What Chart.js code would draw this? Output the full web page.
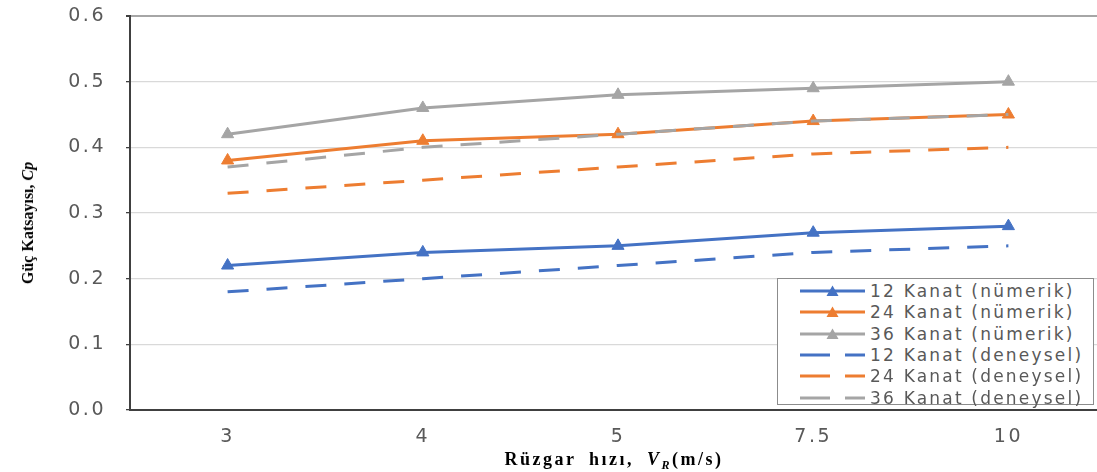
<!DOCTYPE html>
<html>
<head>
<meta charset="utf-8">
<script src="https://cdn.jsdelivr.net/npm/chart.js@4.4.0/dist/chart.umd.min.js"></script>
<style>
html, body { margin: 0; padding: 0; background: #fff; overflow: hidden; width: 1097px; height: 472px; }
#cpChart { position: absolute; left: 0; top: 0; }
#yTitle { position: absolute; left: 28px; top: 223px; transform: translate(-50%, -50%) rotate(-90deg); font: bold 16px "Liberation Serif"; white-space: nowrap; color: #000; }
#xTitle { position: absolute; left: 614px; top: 461px; transform: translate(-50%, -50%); font: bold 18px "Liberation Serif"; letter-spacing: 2.5px; word-spacing: 6px; white-space: nowrap; color: #000; }
#legend { position: absolute; left: 777px; top: 278px; width: 315px; height: 125px; border: 1.5px solid #8c8c8c; background: #fff; }
.row { position: absolute; left: 0; height: 21px; display: flex; align-items: center; }
.row svg { margin-left: 22px; }
.row span { margin-left: 5px; font: 17px "DejaVu Sans"; letter-spacing: 2.2px; color: #595959; white-space: nowrap; }
</style>
</head>
<body>
<canvas id="cpChart" width="1114" height="472"></canvas>
<div id="yTitle">Güç Katsayısı, <i>Cp</i></div>
<div id="xTitle">Rüzgar hızı, <i>V<sub style="font-size:12px">R</sub></i>(m/s)</div>
<div id="legend"></div>
<script>
// Wind speed categories
const windSpeeds = ["3", "4", "5", "7.5", "10"];

// Numerical results
const blade12Num = [0.22, 0.24, 0.25, 0.27, 0.28];
const blade24Num = [0.38, 0.41, 0.42, 0.44, 0.45];
const blade36Num = [0.42, 0.46, 0.48, 0.49, 0.50];

// Experimental results
const blade12Exp = [0.18, 0.20, 0.22, 0.24, 0.25];
const blade24Exp = [0.33, 0.35, 0.37, 0.39, 0.40];
const blade36Exp = [0.37, 0.40, 0.42, 0.44, 0.45];

const yTicks = [0, 0.1, 0.2, 0.3, 0.4, 0.5, 0.6];

const blue = "#4472C4";
const orange = "#ED7D31";
const gray = "#A5A5A5";

function numSeries(label, data, color, order) {
    return {
        label: label,
        data: data,
        borderColor: color,
        backgroundColor: color,
        borderWidth: 3,
        pointStyle: "triangle",
        pointRadius: 7,
        pointBorderWidth: 1,
        order: order,
        dashed: false,
    };
}

function expSeries(label, data, color, order) {
    return {
        label: label,
        data: data,
        borderColor: color,
        backgroundColor: color,
        borderWidth: 3,
        borderDash: [21, 18],
        pointRadius: 0,
        order: order,
        dashed: true,
    };
}

const datasets = [
    numSeries("12 Kanat (nümerik)", blade12Num, blue, 6),
    numSeries("24 Kanat (nümerik)", blade24Num, orange, 5),
    numSeries("36 Kanat (nümerik)", blade36Num, gray, 4),
    expSeries("12 Kanat (deneysel)", blade12Exp, blue, 3),
    expSeries("24 Kanat (deneysel)", blade24Exp, orange, 2),
    expSeries("36 Kanat (deneysel)", blade36Exp, gray, 1),
];

const spacingPlugin = {
    id: "spacing",
    beforeDraw(chart) {
        chart.ctx.letterSpacing = "2.5px";
    },
};

const cpChart = new Chart(document.getElementById("cpChart"), {
    type: "line",
    data: { labels: windSpeeds, datasets: datasets },
    options: {
        responsive: false,
        animation: false,
        devicePixelRatio: 1,
        layout: { padding: { top: 16, left: 0, right: 0, bottom: 0 } },
        elements: { line: { tension: 0 } },
        plugins: { legend: { display: false }, tooltip: { enabled: false } },
        scales: {
            x: {
                offset: true,
                grid: { drawOnChartArea: false, drawTicks: false },
                border: { color: "#404040", width: 2 },
                ticks: { color: "#595959", font: { family: "DejaVu Sans", size: 19 }, padding: 16 },
                afterFit: (s) => {
                    s.height = 62;
                    s.paddingLeft = 0;
                    s.paddingRight = 0;
                },
            },
            y: {
                min: 0,
                max: 0.6,
                afterBuildTicks: (s) => { s.ticks = yTicks.map((v) => ({ value: v })); },
                ticks: {
                    callback: (v) => Number(v).toFixed(1),
                    color: "#595959",
                    font: { family: "DejaVu Sans", size: 19 },
                    padding: 20,
                },
                grid: {
                    color: (c) => (Math.abs(c.tick.value - 0.6) < 1e-6 ? "#a6a6a6" : "#d9d9d9"),
                    lineWidth: (c) => (Math.abs(c.tick.value - 0.6) < 1e-6 ? 2 : 1.3),
                    tickLength: 4,
                    tickColor: "#404040",
                },
                border: { color: "#404040", width: 2 },
                afterFit: (s) => {
                    s.width = 130;
                    s.paddingTop = 0;
                    s.paddingBottom = 0;
                },
            },
        },
    },
    plugins: [spacingPlugin],
});

// HTML legend inside the plot
const legend = document.getElementById("legend");
datasets.forEach((ds, i) => {
    const row = document.createElement("div");
    row.className = "row";
    row.style.top = (1.5 + i * 21.3) + "px";
    let svg = '<svg width="65" height="16" viewBox="0 0 65 16">';
    if (ds.dashed) {
        svg += '<line x1="0" y1="8" x2="65" y2="8" stroke="' + ds.borderColor + '" stroke-width="3" stroke-dasharray="30 15"/>';
    } else {
        svg += '<line x1="0" y1="8" x2="65" y2="8" stroke="' + ds.borderColor + '" stroke-width="3"/>';
        svg += '<polygon points="26.5,13 38.5,13 32.5,2.5" fill="' + ds.borderColor + '"/>';
    }
    svg += "</svg>";
    row.innerHTML = svg + "<span>" + ds.label + "</span>";
    legend.appendChild(row);
});
</script>
</body>
</html>
